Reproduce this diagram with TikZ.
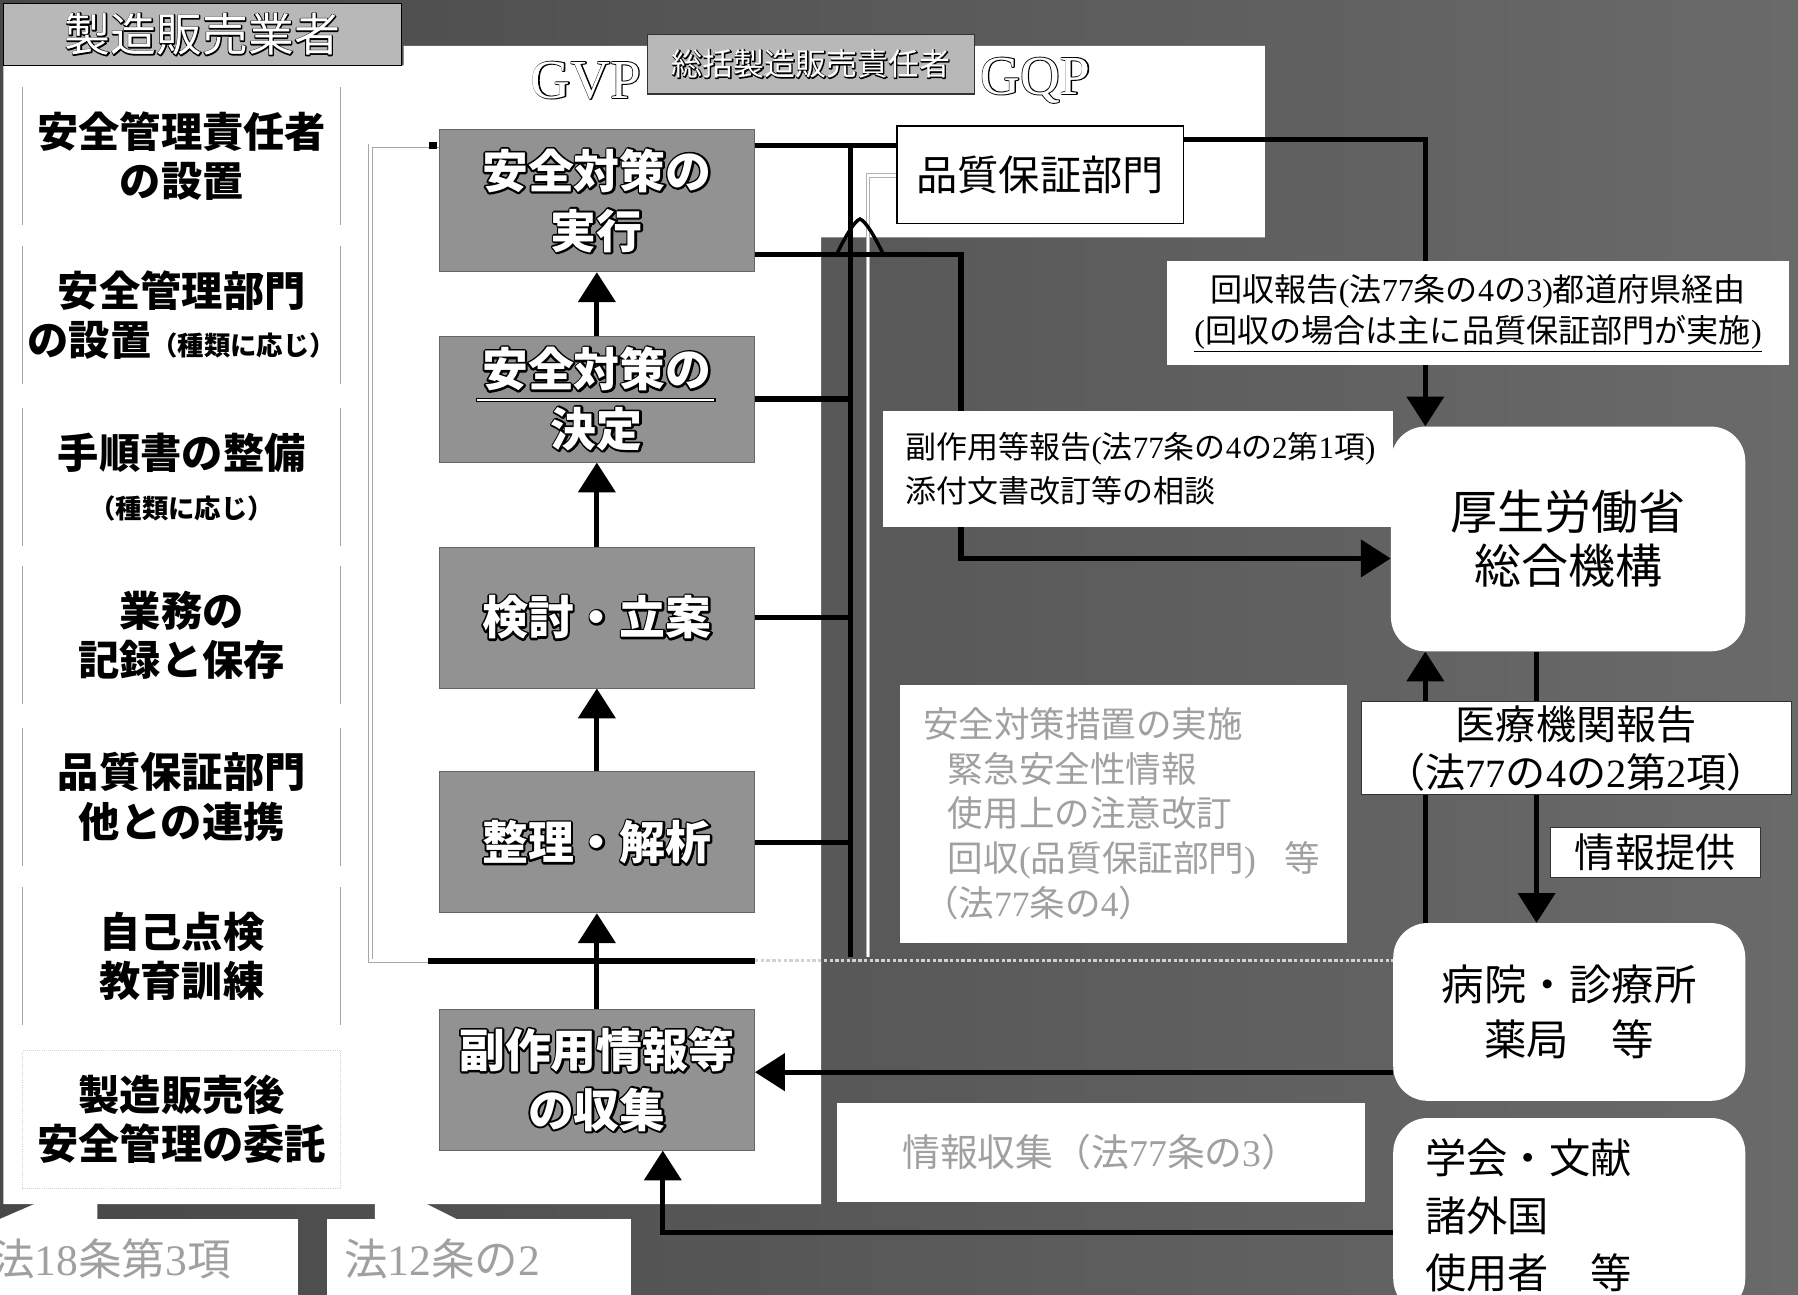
\documentclass[tikz,border=0pt]{standalone}
\usepackage{fontspec}
\usetikzlibrary{arrows.meta}
\setmainfont{Noto Sans CJK JP}
\newfontfamily\jp{Noto Sans CJK JP}
\newfontfamily\tms{Liberation Serif}
\newcommand\fs[2]{\fontsize{#1}{#2}\selectfont}
\newcommand\olt[2][3.4]{\rlap{\special{pdf:literal direct 0 0 0 RG #1 w 1 j 1 Tr}#2\special{pdf:literal direct 0 Tr}}#2}
\definecolor{bgdark}{HTML}{484848}
\definecolor{bglight}{HTML}{6A6A6A}
\definecolor{midgray}{HTML}{929292}
\definecolor{hdrgray}{HTML}{B8B8B8}
\definecolor{faint}{HTML}{A0A0A0}
\pgfdeclarelayer{back}
\pgfdeclarelayer{lines}
\pgfsetlayers{back,lines,main}
\begin{document}
\begin{tikzpicture}[x=1pt,y=-1pt,
  conn/.style={line width=4.5pt, black},
  arr/.style={conn, -{Triangle[width=32pt,length=26pt]}},
  sideline/.style={gray!70, line width=1pt},
  leftitem/.style={minimum width=277pt, minimum height=120pt, inner sep=0pt, align=center, font={\jp\bfseries\fs{36}{43}}},
  midbox/.style={fill=midgray, draw=black!60, line width=0.8pt, minimum width=275pt, inner sep=0pt, align=center, text=white, font={\jp\bfseries\fs{40}{52}}},
  wbox/.style={fill=white, inner sep=0pt},
  rbox/.style={fill=white, rounded corners=30pt, inner sep=0pt, align=center},
]
\useasboundingbox (0,0) rectangle (1568,1129);
\begin{pgfonlayer}{back}
\shade[left color=bgdark, right color=bglight] (0,0) rectangle (1568,1129);
\fill[white] (3,57) -- (352,57) -- (352,40) -- (1103,40) -- (1103,207) -- (716,207) -- (716,1050) -- (3,1050) -- cycle;
\fill[white] (30,1050) -- (85,1050) -- (85,1063) -- (0,1063) -- cycle;
\fill[white] (327,1050) -- (372,1050) -- (398,1063) -- (327,1063) -- cycle;
\end{pgfonlayer}

% header
\node[draw=black, line width=1.2pt, fill=hdrgray, minimum width=347pt, minimum height=54pt, inner sep=0pt, text=white, font={\jp\fs{40}{44}}] (hdr) at (176.5,30) {\olt[1.8]{製造販売業者}};
\node[draw=black!80, line width=1pt, fill=hdrgray, minimum width=285pt, minimum height=52pt, inner sep=0pt, text=white, font={\jp\fs{27}{30}}] (sek) at (707.5,56) {\olt[1.3]{総括製造販売責任者}};
\node[text=white, font={\tms\fs{48}{50}}, inner sep=0pt] (gvp) at (511,70) {\olt[1.6]{GVP}};
\node[text=white, font={\tms\fs{48}{50}}, inner sep=0pt] (gqp) at (903,70) {\olt[1.6]{GQP}};
\node[draw=black, line width=1.5pt, fill=white, minimum width=250pt, minimum height=85pt, inner sep=0pt, font={\jp\fs{36}{40}}] (qa) at (907,152.5) {品質保証部門};

% left column
\node[leftitem] (L1) at (158.5,136) {安全管理責任者\\の設置};
\node[leftitem] (L2) at (158.5,275) {安全管理部門\\の設置{\fs{23}{30}（種類に応じ）}};
\node[leftitem] (L3) at (158.5,416) {手順書の整備\\{\fs{23}{30}（種類に応じ）}};
\node[leftitem] (L4) at (158.5,554) {業務の\\記録と保存};
\node[leftitem] (L5) at (158.5,695) {品質保証部門\\他との連携};
\node[leftitem] (L6) at (158.5,834) {自己点検\\教育訓練};
\node[leftitem, draw=gray!35, densely dotted, line width=0.8pt] (L7) at (158.5,976) {製造販売後\\安全管理の委託};
\foreach \n in {L1,L2,L3,L4,L5,L6}{
  \draw[sideline] (\n.north west) -- (\n.south west) (\n.north east) -- (\n.south east);
}

% middle column
\node[midbox, minimum height=124pt] (b1) at (520.5,175) {\olt{安全対策の}\\\olt{実行}};
\node[midbox, minimum height=110pt] (b2) at (520.5,348) {\olt{安全対策の}\\\olt{決定}};
\node[midbox, minimum height=123pt] (b3) at (520.5,538.5) {\olt{検討・立案}};
\node[midbox, minimum height=123pt] (b4) at (520.5,734.5) {\olt{整理・解析}};
\node[midbox, minimum height=123pt] (b5) at (520.5,941.5) {\olt{副作用情報等}\\\olt{の収集}};
\draw[black, line width=4pt] (415,349) -- (624,349);
\draw[white, line width=2pt] (416,349) -- (623,349);

% right side
\node[wbox, minimum width=542pt, minimum height=90pt, align=center, font={\jp\fs{28}{36}}] (kaishu) at (1289,273) {回収報告{\tms(}法{\tms 77}条の{\tms 4}の{\tms 3)}都道府県経由\\\underline{{\tms(}回収の場合は主に品質保証部門が実施{\tms)}}};
\node[wbox, text width=405pt, inner xsep=20pt, minimum height=102pt, align=left, font={\jp\fs{27}{38}}] (fuku) at (992.5,409) {副作用等報告{\tms(}法{\tms 77}条の{\tms 4}の{\tms 2}第{\tms 1}項{\tms)}\\添付文書改訂等の相談};
\node[rbox, minimum width=309pt, minimum height=196pt, font={\jp\fs{41}{47}}] (mhlw) at (1367.5,470) {厚生労働省\\総合機構};
\node[wbox, draw=black!80, line width=0.8pt, minimum width=375pt, minimum height=81pt, align=center, font={\jp\fs{35}{42}}] (iryo) at (1374.5,652.5) {医療機関報告\\（法{\tms 77}の{\tms 4}の{\tms 2}第{\tms 2}項）};
\node[wbox, draw=black!80, line width=0.8pt, minimum width=183pt, minimum height=43pt, font={\jp\fs{35}{40}}] (teikyo) at (1443.5,743.5) {情報提供};
\node[rbox, minimum width=307pt, minimum height=155pt, font={\jp\fs{37}{48}}] (byoin) at (1368.5,882.5) {病院・診療所\\薬局　等};
\node[rbox, minimum width=307pt, minimum height=170pt, text width=251pt, inner xsep=28pt, align=left, font={\jp\fs{36}{50}}] (gakkai) at (1368.5,1060) {学会・文献\\諸外国\\使用者　等};
\node[wbox, text width=350pt, inner xsep=20pt, minimum height=225pt, align=left, text=faint, font={\jp\fs{31}{39}}] (taisaku) at (980,709.5) {安全対策措置の実施\\\hspace*{0.7em}緊急安全性情報\\\hspace*{0.7em}使用上の注意改訂\\\hspace*{0.7em}回収{\tms(}品質保証部門{\tms)}\hspace{0.8em}等\\（法{\tms 77}条の{\tms 4}）};
\node[wbox, minimum width=460pt, minimum height=86pt, text=faint, font={\jp\fs{33}{36}}] (shushu) at (960,1005) {情報収集（法{\tms 77}条の{\tms 3}）};
\node[wbox, anchor=west, minimum height=70pt, text width=266pt, inner xsep=2pt, align=left, text=faint, font={\jp\fs{38}{40}}] (law18) at (-10,1098) {法{\tms 18}条第{\tms 3}項};
\node[wbox, minimum width=265pt, minimum height=70pt, text width=235pt, inner xsep=15pt, align=left, text=faint, font={\jp\fs{38}{40}}] (law12) at (417.5,1098) {法{\tms 12}条の{\tms 2}};

% connectors
\begin{pgfonlayer}{lines}
\coordinate (bustop) at (742,127);
\coordinate (busbot) at (742,835);
\coordinate (kq) at (1243,122);
\coordinate (fk1) at (838,222);
\coordinate (fk2) at (838,487);
\coordinate (mr) at (1340,700);
\coordinate (hb) at (900,935);
\coordinate (gk) at (578,1075);
\coordinate (frtl) at (323,127);
\coordinate (frbl) at (323,838);
\coordinate (gl) at (373,838);
\coordinate (wl) at (757,153);
\coordinate (wlb) at (757,835);

\draw[double=white, double distance=2.5pt, draw=gray!70, line width=0.6pt] (b1.west |- frtl) -- (frtl) -- (frbl) -- (gl);
\fill[black] (374,124) rectangle (381,130);
\draw[gray!35, line width=2.5pt, dash pattern=on 3pt off 2pt] (gl -| b4.east) -- (gl -| byoin.west);
\draw[conn] (gl) -- (gl -| b4.east);

\draw[gray!60, line width=4pt] (wl -| qa.west) -- (wl) -- (wlb);
\draw[white, line width=2pt] (wl -| qa.west) -- (wl) -- (wlb);

\draw[conn] (b1.east |- bustop) -- (qa.west |- bustop);
\draw[conn] (bustop) -- (busbot);
\draw[conn] (b2.east) -- (b2.east -| bustop);
\draw[conn] (b3.east) -- (b3.east -| bustop);
\draw[conn] (b4.east) -- (b4.east -| bustop);
\draw[line width=3pt, line cap=round] (730,221) .. controls (738,205) and (745,193) .. (750,191) .. controls (755,193) and (762,205) .. (770,221);

\draw[arr] (qa.east |- kq) -- (kq) -- (kq |- mhlw.north);
\draw[arr] (b1.east |- fk1) -- (fk1) -- (fk2) -- (fk2 -| mhlw.west);
\draw[arr] (b2.north) -- (b1.south);
\draw[arr] (b3.north) -- (b2.south);
\draw[arr] (b4.north) -- (b3.south);
\draw[arr] (b5.north) -- (b4.south);
\draw[arr] (byoin.north -| kq) -- (mhlw.south -| kq);
\draw[arr] (mhlw.south -| mr) -- (byoin.north -| mr);
\draw[arr] (byoin.west |- hb) -- (b5.east |- hb);
\draw[arr] (gakkai.west |- gk) -- (gk) -- (gk |- b5.south);
\end{pgfonlayer}
\end{tikzpicture}
\end{document}
